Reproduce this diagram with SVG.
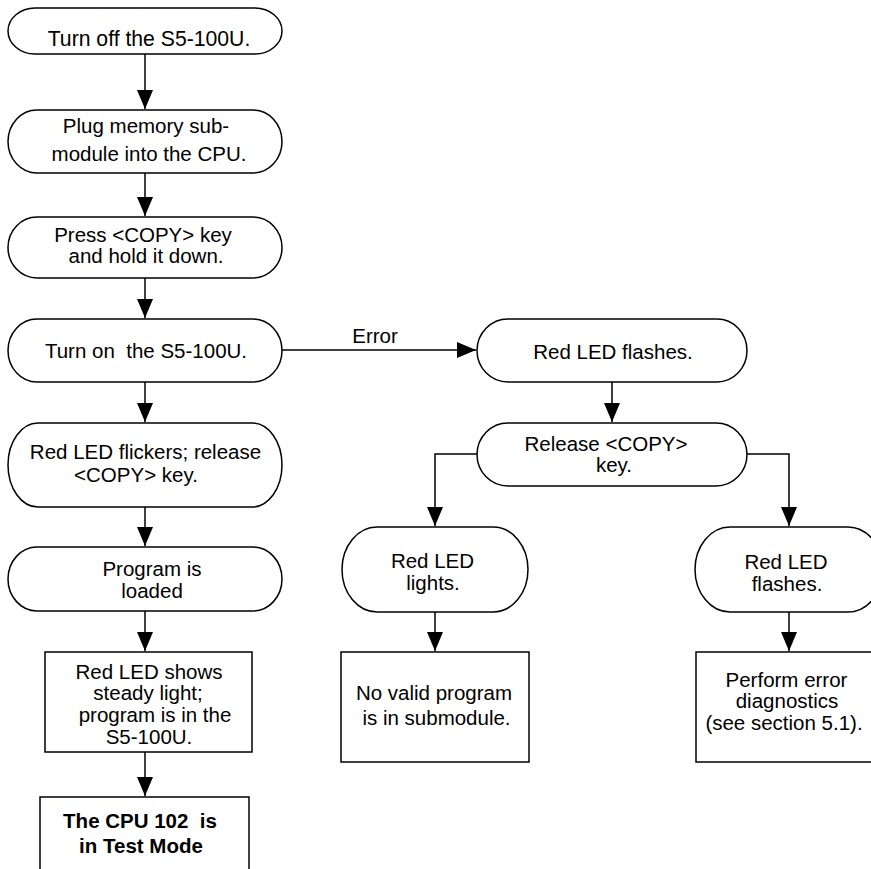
<svg xmlns="http://www.w3.org/2000/svg" width="871" height="869" viewBox="0 0 871 869">
<style>
.s{fill:#fff;stroke:#000;stroke-width:1.5}
.t{font-family:"Liberation Sans",Arial,sans-serif;font-size:20.5px;fill:#000;text-anchor:middle}
.b{font-weight:bold}
.c{fill:none;stroke:#000;stroke-width:1.5}
</style>
<defs>
<marker id="ah" markerUnits="userSpaceOnUse" markerWidth="20" markerHeight="16" refX="19" refY="8" orient="auto">
<path d="M0,0 L19,8 L0,16 z" fill="#000"/>
</marker>
</defs>
<rect width="871" height="869" fill="#fff"/>
<g id="connectors">
<path class="c" d="M145,54 V109" marker-end="url(#ah)"/>
<path class="c" d="M145,173 V216" marker-end="url(#ah)"/>
<path class="c" d="M145,278 V318" marker-end="url(#ah)"/>
<path class="c" d="M145,382 V422" marker-end="url(#ah)"/>
<path class="c" d="M145,507 V546" marker-end="url(#ah)"/>
<path class="c" d="M145,611 V651" marker-end="url(#ah)"/>
<path class="c" d="M145,752 V796" marker-end="url(#ah)"/>
<path class="c" d="M282,350 H476" marker-end="url(#ah)"/>
<text class="t" x="375" y="343">Error</text>
<path class="c" d="M612,382 V422" marker-end="url(#ah)"/>
<path class="c" d="M477,454 H435 V526" marker-end="url(#ah)"/>
<path class="c" d="M747,454 H789 V526" marker-end="url(#ah)"/>
<path class="c" d="M435,612 V651" marker-end="url(#ah)"/>
<path class="c" d="M789,612 V651" marker-end="url(#ah)"/>
</g>
<g id="n1">
<path class="s" d="M35,8 H255 A27,23 0 0 1 255,54 H35 A27,23 0 0 1 35,8 Z"/>
<text class="t" x="149" y="46" style="font-size:21.2px">Turn off the S5-100U.</text>
</g>
<g id="n2">
<path class="s" d="M37,110 H253 A29,31.5 0 0 1 253,173 H37 A29,31.5 0 0 1 37,110 Z"/>
<text class="t" x="146" y="133">Plug memory sub-</text>
<text class="t" x="149" y="161">module into the CPU.</text>
</g>
<g id="n3">
<path class="s" d="M37,217 H253 A29,30.5 0 0 1 253,278 H37 A29,30.5 0 0 1 37,217 Z"/>
<text class="t" x="143" y="242">Press &lt;COPY&gt; key</text>
<text class="t" x="146" y="263">and hold it down.</text>
</g>
<g id="n4">
<path class="s" d="M37,319 H253 A29,31.5 0 0 1 253,382 H37 A29,31.5 0 0 1 37,319 Z"/>
<text class="t" x="146" y="358" xml:space="preserve">Turn on  the S5-100U.</text>
</g>
<g id="n5">
<path class="s" d="M38,423 H252 A30,42 0 0 1 252,507 H38 A30,42 0 0 1 38,423 Z"/>
<text class="t" x="145.5" y="459">Red LED flickers; release</text>
<text class="t" x="136" y="482">&lt;COPY&gt; key.</text>
</g>
<g id="n6">
<path class="s" d="M37,547 H253 A29,32 0 0 1 253,611 H37 A29,32 0 0 1 37,547 Z"/>
<text class="t" x="152" y="576">Program is</text>
<text class="t" x="152" y="598">loaded</text>
</g>
<g id="n7">
<rect class="s" x="45" y="652" width="207" height="100"/>
<text class="t" x="149" y="679">Red LED shows</text>
<text class="t" x="148" y="700">steady light;</text>
<text class="t" x="155" y="722">program is in the</text>
<text class="t" x="149" y="744">S5-100U.</text>
</g>
<g id="n8">
<rect class="s" x="40" y="797" width="209" height="90"/>
<text class="t b" x="140" y="828" xml:space="preserve">The CPU 102  is</text>
<text class="t b" x="141" y="853">in Test Mode</text>
</g>
<g id="e1">
<path class="s" d="M508,319 H717 A30,31.5 0 0 1 717,382 H508 A31,31.5 0 0 1 508,319 Z"/>
<text class="t" x="613" y="359">Red LED flashes.</text>
</g>
<g id="e2">
<path class="s" d="M508,423 H716 A31,31.5 0 0 1 716,486 H508 A31,31.5 0 0 1 508,423 Z"/>
<text class="t" x="606" y="451">Release &lt;COPY&gt;</text>
<text class="t" x="614" y="472">key.</text>
</g>
<g id="l1">
<path class="s" d="M377,527 H493 A35,42.5 0 0 1 493,612 H377 A35,42.5 0 0 1 377,527 Z"/>
<text class="t" x="432.5" y="568">Red LED</text>
<text class="t" x="433" y="590">lights.</text>
</g>
<g id="l2">
<rect class="s" x="341" y="652" width="188" height="110"/>
<text class="t" x="434" y="700">No valid program</text>
<text class="t" x="436.5" y="725">is in submodule.</text>
</g>
<g id="f1">
<path class="s" d="M730,527 H848 A35,42.5 0 0 1 848,612 H730 A35,42.5 0 0 1 730,527 Z"/>
<text class="t" x="786" y="569">Red LED</text>
<text class="t" x="787" y="591">flashes.</text>
</g>
<g id="f2">
<rect class="s" x="696" y="652" width="186" height="110"/>
<text class="t" x="786.5" y="687">Perform error</text>
<text class="t" x="787" y="708">diagnostics</text>
<text class="t" x="784" y="730">(see section 5.1).</text>
</g>
</svg>
